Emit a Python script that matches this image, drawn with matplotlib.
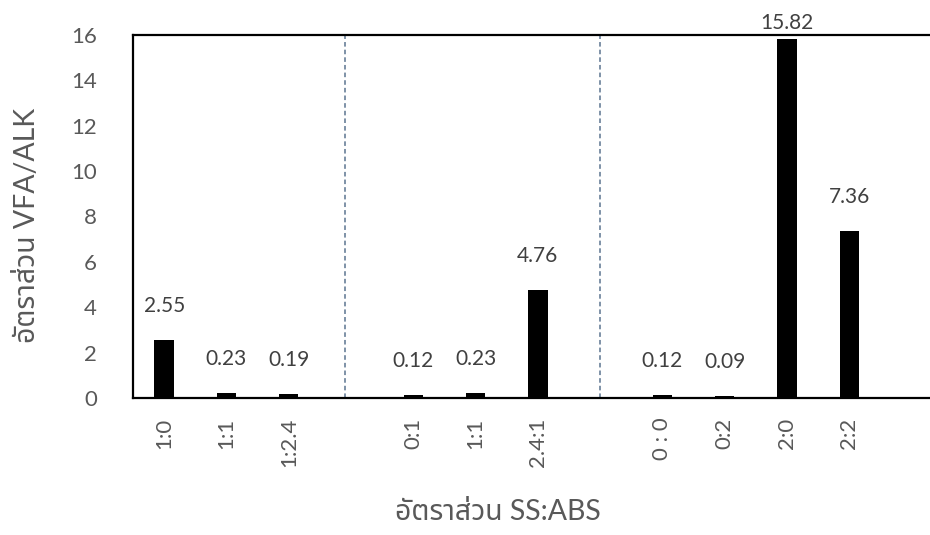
import matplotlib
matplotlib.use("Agg")
import matplotlib.pyplot as plt
import numpy as np

# SS:ABS mixing ratios, grouped in three series separated by a blank slot
ratios = ["1:0", "1:1", "1:2.4", "", "0:1", "1:1", "2.4:1", "", "0 : 0", "0:2", "2:0", "2:2", ""]
vfa_alk = [2.55, 0.23, 0.19, None, 0.12, 0.23, 4.76, None, 0.12, 0.09, 15.82, 7.36, None]
group_breaks = [2.9, 7.0]
y_ticks = [0, 2, 4, 6, 8, 10, 12, 14, 16]

FONT = ["Lato", "Noto Sans Thai", "DejaVu Sans"]
plt.rcParams["font.family"] = FONT
TICK_COLOR = "#595959"
LABEL_COLOR = "#404040"

W, H = 930, 535
fig = plt.figure(figsize=(W / 100, H / 100), dpi=100)
left, right, top, bottom = 133, 942.75, 35, 398
ax = fig.add_axes([left / W, 1 - bottom / H, (right - left) / W, (bottom - top) / H])

x = np.arange(len(ratios))
heights = [v if v is not None else 0 for v in vfa_alk]
ax.bar(x, heights, width=0.31, color="black", zorder=3)

for xb in group_breaks:
    ax.axvline(xb, color="#5b7490", lw=1.1, ls=(0, (3, 2)), zorder=1)

ax.set_xlim(-0.5, len(ratios) - 0.5)
ax.set_ylim(0, 16)
ax.set_yticks(y_ticks)
ax.set_xticks(x)
ax.set_xticklabels(ratios, rotation=90)
ax.tick_params(axis="y", length=0, pad=26, labelsize=16, labelcolor=TICK_COLOR)
ax.tick_params(axis="x", length=0, pad=14, labelsize=16, labelcolor=TICK_COLOR)
for lab in ax.get_xticklabels():
    lab.set_verticalalignment("top")

for side in ["left", "top", "bottom", "right"]:
    ax.spines[side].set_color("black")
    ax.spines[side].set_linewidth(1.6)

# value labels above each bar, kept inside the top of the frame
px_per_unit = (bottom - top) / 16
for xi, v in zip(x, vfa_alk):
    if v is None:
        continue
    ylab = min(v + 34 / px_per_unit, 16.53)
    ax.text(xi, ylab, f"{v:.2f}", ha="center", va="center", fontsize=15,
            color=LABEL_COLOR, clip_on=False)

fig.text(27 / W, 1 - 225 / H, "อัตราส่วน VFA/ALK", rotation=90, ha="center",
         va="center", fontsize=20.5, color=TICK_COLOR)
fig.text(497.5 / W, 1 - 512 / H, "อัตราส่วน SS:ABS", ha="center",
         va="center", fontsize=20.5, color=TICK_COLOR)

fig.savefig("out.png", dpi=100)
